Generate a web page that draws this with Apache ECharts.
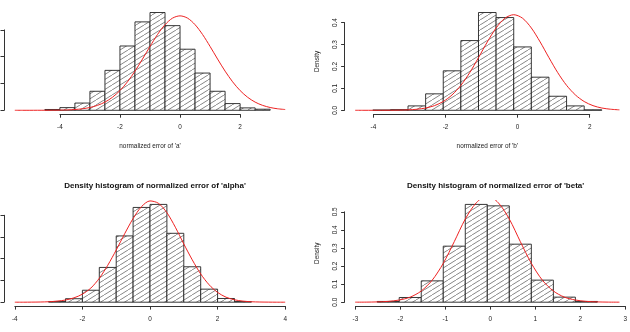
<!DOCTYPE html>
<html><head><meta charset="utf-8">
<script src="https://cdn.jsdelivr.net/npm/echarts@6/dist/echarts.min.js"></script>
<style>html,body{margin:0;padding:0;background:#fff}#c{width:630px;height:332px}</style>
</head><body><div id="c"></div>
<script>
// ---------------- data ----------------
// panel a (top-left)
const aBreaks = [-4.5,-4,-3.5,-3,-2.5,-2,-1.5,-1,-0.5,0,0.5,1,1.5,2,2.5,3];
const aDensity = [0.003,0.010,0.027,0.071,0.149,0.240,0.330,0.365,0.316,0.228,0.139,0.071,0.025,0.009,0.004];
const aXlim = [-5.5, 3.5];
const aXTicks = [-4,-2,0,2];
const aYTicks = [0,0.1,0.2,0.3];
const aCurveX = [-5.5,-5.25,-5,-4.75,-4.5,-4.25,-4,-3.75,-3.5,-3.25,-3,-2.75,-2.5,-2.25,-2,-1.75,-1.5,-1.25,-1,-0.75,-0.5,-0.25,0,0.25,0.5,0.75,1,1.25,1.5,1.75,2,2.25,2.5,2.75,3,3.25,3.5];
const aCurveY = [0,0,0,0.0001,0.0001,0.0003,0.0007,0.0014,0.0029,0.0056,0.0104,0.0183,0.0305,0.0486,0.0736,0.1063,0.1461,0.1912,0.2383,0.2829,0.3196,0.3440,0.3525,0.3440,0.3196,0.2829,0.2383,0.1912,0.1461,0.1063,0.0736,0.0486,0.0305,0.0183,0.0104,0.0056,0.0029];

// panel b (top-right)
const bBreaks = [-4,-3.5,-3,-2.5,-2,-1.5,-1,-0.5,0,0.5,1,1.5,2,2.5];
const bDensity = [0.001,0.003,0.020,0.075,0.180,0.318,0.446,0.423,0.289,0.151,0.064,0.020,0.002];
const bXlim = [-4.5, 3.0];
const bXTicks = [-4,-2,0,2];
const bYTicks = [0,0.1,0.2,0.3,0.4];
const bCurveX = [-4.5,-4.25,-4,-3.75,-3.5,-3.25,-3,-2.75,-2.5,-2.25,-2,-1.75,-1.5,-1.25,-1,-0.75,-0.5,-0.25,0,0.25,0.5,0.75,1,1.25,1.5,1.75,2,2.25,2.5,2.75,3];
const bCurveY = [0,0,0,0.0001,0.0003,0.0008,0.0020,0.0048,0.0104,0.0212,0.0400,0.0701,0.1138,0.1715,0.2400,0.3117,0.3755,0.4200,0.4360,0.4200,0.3755,0.3117,0.2400,0.1715,0.1138,0.0701,0.0400,0.0212,0.0104,0.0048,0.0020];

// panel alpha (bottom-left)
const alphaBreaks = [-3,-2.5,-2,-1.5,-1,-0.5,0,0.5,1,1.5,2,2.5,3];
const alphaDensity = [0.003,0.016,0.055,0.160,0.305,0.436,0.450,0.317,0.163,0.060,0.017,0.003];
const alphaXlim = [-4, 4];
const alphaXTicks = [-4,-2,0,2,4];
const alphaYTicks = [0,0.1,0.2,0.3,0.4];
const alphaCurveX = [-4,-3.75,-3.5,-3.25,-3,-2.75,-2.5,-2.25,-2,-1.75,-1.5,-1.25,-1,-0.75,-0.5,-0.25,0,0.25,0.5,0.75,1,1.25,1.5,1.75,2,2.25,2.5,2.75,3,3.25,3.5,3.75,4];
const alphaCurveY = [0,0,0.0003,0.0008,0.002,0.005,0.010,0.020,0.037,0.065,0.110,0.170,0.240,0.315,0.385,0.440,0.466,0.455,0.412,0.345,0.268,0.195,0.130,0.080,0.045,0.023,0.011,0.005,0.002,0.0008,0.0003,0,0];

// panel beta (bottom-right)
const betaBreaks = [-2.5,-2,-1.5,-1,-0.5,0,0.5,1,1.5,2,2.5];
const betaDensity = [0.004,0.026,0.118,0.310,0.541,0.533,0.321,0.122,0.028,0.004];
const betaXlim = [-3, 3];
const betaXTicks = [-3,-2,-1,0,1,2,3];
const betaYTicks = [0,0.1,0.2,0.3,0.4,0.5];
const betaCurveX = [-3,-2.75,-2.5,-2.25,-2,-1.75,-1.5,-1.25,-1,-0.75,-0.5,-0.25,0,0.25,0.5,0.75,1,1.25,1.5,1.75,2,2.25,2.5,2.75,3];
const betaCurveY = [0.0001,0.0004,0.0015,0.0045,0.012,0.028,0.062,0.122,0.215,0.335,0.460,0.550,0.590,0.550,0.460,0.335,0.215,0.122,0.062,0.028,0.012,0.0045,0.0015,0.0004,0.0001];

const titles = ["Density histogram of normalized error of 'a'", "Density histogram of normalized error of 'b'",
                "Density histogram of normalized error of 'alpha'", "Density histogram of normalized error of 'beta'"];
const xNames = ["normalized error of 'a'", "normalized error of 'b'", "normalized error of 'alpha'", "normalized error of 'beta'"];
const yName = "Density";

// ---------------- layout ----------------
const FONT = 'Liberation Sans, Arial, Helvetica, sans-serif';
const W = 292, H = 105.6;
const layout = [
  {left: 4,     top: 8.6,   showYLabels: false, showTitle: false, showXName: true},
  {left: 344.6, top: 8.6,   showYLabels: true,  showTitle: false, showXName: true},
  {left: 4,     top: 200.5, showYLabels: false, showTitle: true,  showXName: false},
  {left: 344.6, top: 200.5, showYLabels: true,  showTitle: true,  showXName: false}
];
const panels = [
  {breaks: aBreaks, dens: aDensity, xlim: aXlim, xt: aXTicks, yt: aYTicks, cx: aCurveX, cy: aCurveY},
  {breaks: bBreaks, dens: bDensity, xlim: bXlim, xt: bXTicks, yt: bYTicks, cx: bCurveX, cy: bCurveY},
  {breaks: alphaBreaks, dens: alphaDensity, xlim: alphaXlim, xt: alphaXTicks, yt: alphaYTicks, cx: alphaCurveX, cy: alphaCurveY},
  {breaks: betaBreaks, dens: betaDensity, xlim: betaXlim, xt: betaXTicks, yt: betaYTicks, cx: betaCurveX, cy: betaCurveY}
];

// hatch pattern
function makeHatch() {
  const w = 8, h = 5;
  const cv = document.createElement('canvas');
  cv.width = w; cv.height = h;
  const g = cv.getContext('2d');
  g.fillStyle = '#fff'; g.fillRect(0, 0, w, h);
  g.strokeStyle = '#555'; g.lineWidth = 0.7;
  for (const x0 of [-w, 0, w]) {
    g.beginPath(); g.moveTo(x0, h); g.lineTo(x0 + w, 0); g.stroke();
  }
  return {image: cv, repeat: 'repeat'};
}
const hatch = makeHatch();

const grid = [], xAxis = [], yAxis = [], series = [], title = [];
const AX = '#333';
panels.forEach((p, i) => {
  const L = layout[i];
  const xr = p.xlim[1] - p.xlim[0];
  const xmin = p.xlim[0] - 0.04 * xr, xmax = p.xlim[1] + 0.04 * xr;
  const m = Math.max(...p.dens);
  const ymin = -0.04 * m, ymax = 1.04 * m;
  // data grid
  const gData = grid.length;
  grid.push({left: L.left, top: L.top, width: W, height: H, containLabel: false});
  xAxis.push({gridIndex: gData, type: 'value', min: xmin, max: xmax,
    axisLine: {show: false}, axisTick: {show: false}, axisLabel: {show: false}, splitLine: {show: false},
    name: L.showXName ? xNames[i] : '', nameLocation: 'middle', nameGap: 29,
    nameTextStyle: {fontFamily: FONT, fontSize: 6.4, color: '#222'}});
  yAxis.push({gridIndex: gData, type: 'value', min: ymin, max: ymax,
    axisLine: {show: false}, axisTick: {show: false}, axisLabel: {show: false}, splitLine: {show: false},
    name: L.showYLabels ? yName : '', nameLocation: 'middle', nameGap: 24,
    nameTextStyle: {fontFamily: FONT, fontSize: 6.4, color: '#222'}});
  const data = p.dens.map((d, k) => [p.breaks[k], p.breaks[k + 1], d]);
  series.push({type: 'custom', xAxisIndex: xAxis.length - 1, yAxisIndex: yAxis.length - 1, clip: true,
    data: data,
    renderItem: function (params, api) {
      const p0 = api.coord([api.value(0), 0]);
      const p1 = api.coord([api.value(1), api.value(2)]);
      return {type: 'rect', shape: {x: p0[0], y: p1[1], width: p1[0] - p0[0], height: p0[1] - p1[1]},
        style: {fill: hatch, stroke: '#222', lineWidth: 0.9}};
    }, silent: true, animation: false});
  series.push({type: 'line', xAxisIndex: xAxis.length - 1, yAxisIndex: yAxis.length - 1, clip: true,
    data: p.cx.map((x, k) => [x, p.cy[k]]), showSymbol: false, smooth: 0.3,
    lineStyle: {color: '#ee2222', width: 1}, silent: true, animation: false, z: 5});

  // x axis grid (spans first..last tick)
  const sx = W / (xmax - xmin);
  const xt0 = p.xt[0], xt1 = p.xt[p.xt.length - 1];
  grid.push({left: L.left + (xt0 - xmin) * sx, width: (xt1 - xt0) * sx, top: L.top, height: H});
  const gX = grid.length - 1;
  xAxis.push({gridIndex: gX, type: 'value', min: xt0, max: xt1, interval: p.xt[1] - p.xt[0],
    axisLine: {show: true, lineStyle: {color: AX, width: 1}},
    axisTick: {show: true, length: 3.5, lineStyle: {color: AX, width: 1}},
    axisLabel: {show: true, margin: 10, fontFamily: FONT, fontSize: 6.4, color: '#222',
      formatter: v => String(v)},
    splitLine: {show: false}});
  yAxis.push({gridIndex: gX, type: 'value', show: false, min: 0, max: 1});

  // y axis grid (spans first..last tick)
  const sy = H / (ymax - ymin);
  const yt0 = p.yt[0], yt1 = p.yt[p.yt.length - 1];
  grid.push({left: L.left, width: W, top: L.top + (ymax - yt1) * sy, height: (yt1 - yt0) * sy});
  const gY = grid.length - 1;
  xAxis.push({gridIndex: gY, type: 'value', show: false, min: 0, max: 1});
  yAxis.push({gridIndex: gY, type: 'value', min: yt0, max: yt1, interval: 0.1,
    axisLine: {show: true, lineStyle: {color: AX, width: 1}},
    axisTick: {show: true, length: 3.5, lineStyle: {color: AX, width: 1}},
    axisLabel: {show: L.showYLabels, rotate: 90, margin: 6, fontFamily: FONT, fontSize: 6.4, color: '#222',
      formatter: v => v.toFixed(1)},
    splitLine: {show: false}});

  if (L.showTitle) {
    title.push({text: titles[i], left: L.left + W / 2, top: L.top - 23.5, textAlign: 'center',
      textStyle: {fontFamily: FONT, fontSize: 8, fontWeight: 'bold', color: '#111'}});
  }
});

const chart = echarts.init(document.getElementById('c'), null, {renderer: 'canvas'});
chart.setOption({animation: false, backgroundColor: '#fff', title, grid, xAxis, yAxis, series});
</script></body></html>
